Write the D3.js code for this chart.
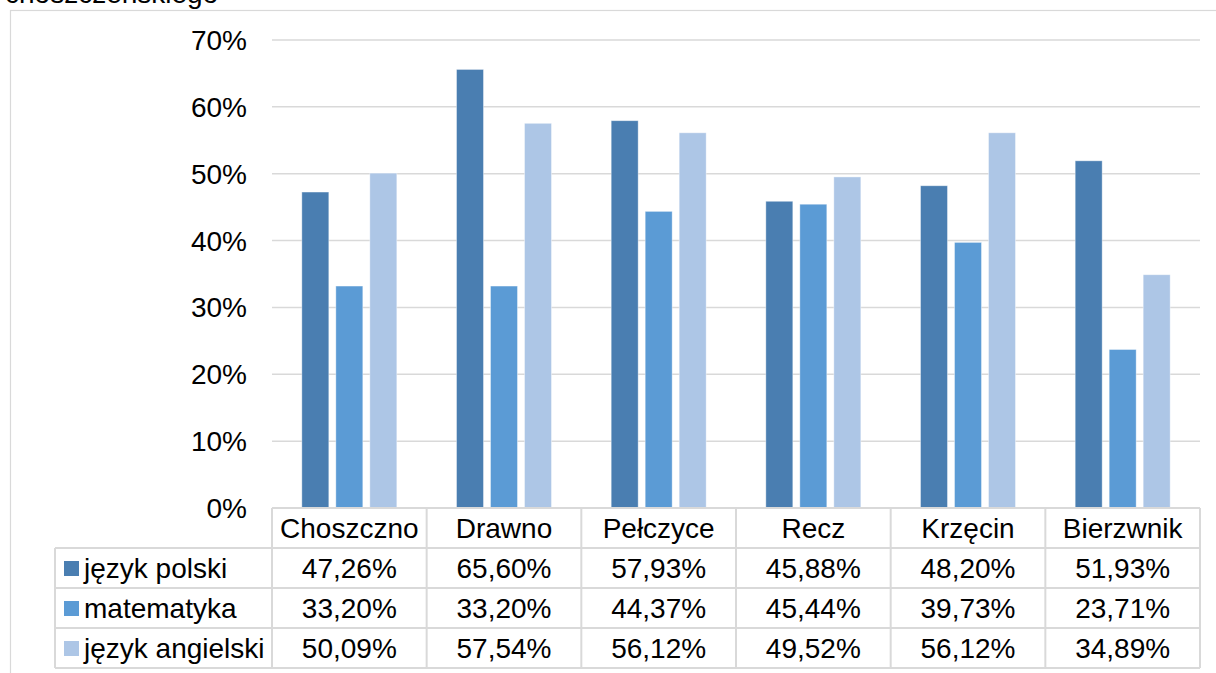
<!DOCTYPE html>
<html lang="pl">
<head>
<meta charset="utf-8">
<title>wyniki egzaminu</title>
<script src="https://cdn.jsdelivr.net/npm/d3@7"></script>
<style>
  body { margin: 0; background: #fff; }
  text { font-family: "Liberation Sans", Arial, sans-serif; fill: #000; }
</style>
</head>
<body>
<script>
// data
var gminy = ["Choszczno", "Drawno", "Pełczyce", "Recz", "Krzęcin", "Bierzwnik"];
var przedmioty = ["język polski", "matematyka", "język angielski"];
var polski = [47.26, 65.60, 57.93, 45.88, 48.20, 51.93];
var matematyka = [33.20, 33.20, 44.37, 45.44, 39.73, 23.71];
var angielski = [50.09, 57.54, 56.12, 49.52, 56.12, 34.89];
var yTicks = [0, 10, 20, 30, 40, 50, 60, 70];
var kolory = ["#4a7eb1", "#5b9bd5", "#adc6e6"];

var series = [polski, matematyka, angielski];

var w = 1216, h = 673;
var plotLeft = 272, plotRight = 1200, plotTop = 40, base = 508;
var rowH = 40;
var fs = "28px";

var svg = d3.select("body").append("svg")
    .attr("width", w)
    .attr("height", h);

// cut-off title line (only its bottom is visible)
svg.append("text")
    .attr("x", 5)
    .attr("y", 3)
    .style("font-size", fs)
    .text("choszczeńskiego");

// chart frame
svg.append("rect")
    .attr("x", 10.5).attr("y", 10.5)
    .attr("width", 1400).attr("height", 1000)
    .attr("fill", "none")
    .attr("stroke", "#d9d9d9")
    .attr("stroke-width", 1.2);

var x = d3.scaleBand().domain(gminy).range([plotLeft, plotRight]);
var y = d3.scaleLinear().domain([0, 70]).range([base, plotTop]);

// gridlines
svg.append("g").selectAll("line")
    .data(yTicks)
    .enter().append("line")
    .attr("x1", plotLeft).attr("x2", plotRight)
    .attr("y1", function(d) { return y(d); })
    .attr("y2", function(d) { return y(d); })
    .attr("stroke", "#d9d9d9")
    .attr("stroke-width", 1.5);

// y labels
svg.append("g").selectAll("text")
    .data(yTicks)
    .enter().append("text")
    .attr("x", 247)
    .attr("y", function(d) { return y(d) + 10; })
    .attr("text-anchor", "end")
    .style("font-size", fs)
    .text(function(d) { return d + "%"; });

// bars
var barW = 27, step = 34;
series.forEach(function(vals, si) {
    svg.append("g").selectAll("rect")
        .data(vals)
        .enter().append("rect")
        .attr("x", function(d, i) {
            return x(gminy[i]) + x.bandwidth() / 2 - (barW / 2 + step) + si * step;
        })
        .attr("y", function(d) { return y(d); })
        .attr("width", barW)
        .attr("height", function(d) { return base - y(d); })
        .attr("fill", kolory[si])
        .attr("stroke", "#fff")
        .attr("stroke-opacity", 0.5)
        .attr("stroke-width", 0.8);
});

// data table
var grid = "#d9d9d9";
var tbl = svg.append("g");
var legLeft = 55;
var tableBottom = base + rowH * 4;

// horizontal lines
[0, 1, 2, 3, 4].forEach(function(r) {
    tbl.append("line")
        .attr("x1", r === 0 ? plotLeft : legLeft).attr("x2", plotRight)
        .attr("y1", base + r * rowH).attr("y2", base + r * rowH)
        .attr("stroke", grid).attr("stroke-width", 2);
});
// vertical lines
tbl.append("line")
    .attr("x1", legLeft).attr("x2", legLeft)
    .attr("y1", base + rowH).attr("y2", tableBottom)
    .attr("stroke", grid).attr("stroke-width", 2);
gminy.concat(["_end"]).forEach(function(g, i) {
    var xx = i < gminy.length ? x(g) : plotRight;
    tbl.append("line")
        .attr("x1", xx).attr("x2", xx)
        .attr("y1", base).attr("y2", tableBottom)
        .attr("stroke", grid).attr("stroke-width", 2);
});

// category labels
tbl.selectAll("text.cat")
    .data(gminy)
    .enter().append("text")
    .attr("class", "cat")
    .attr("x", function(d) { return x(d) + x.bandwidth() / 2; })
    .attr("y", base + 30)
    .attr("text-anchor", "middle")
    .style("font-size", fs)
    .text(function(d) { return d; });

var fmt = function(v) { return v.toFixed(2).replace(".", ",") + "%"; };

series.forEach(function(vals, si) {
    var rowY = base + rowH * (si + 1);
    tbl.append("rect")
        .attr("x", 64).attr("y", rowY + 13)
        .attr("width", 15).attr("height", 15)
        .attr("fill", kolory[si]);
    tbl.append("text")
        .attr("x", 84).attr("y", rowY + 30)
        .style("font-size", fs)
        .text(przedmioty[si]);
    tbl.append("g").selectAll("text")
        .data(vals)
        .enter().append("text")
        .attr("x", function(d, i) { return x(gminy[i]) + x.bandwidth() / 2; })
        .attr("y", rowY + 30)
        .attr("text-anchor", "middle")
        .style("font-size", fs)
        .text(fmt);
});
</script>
</body>
</html>
